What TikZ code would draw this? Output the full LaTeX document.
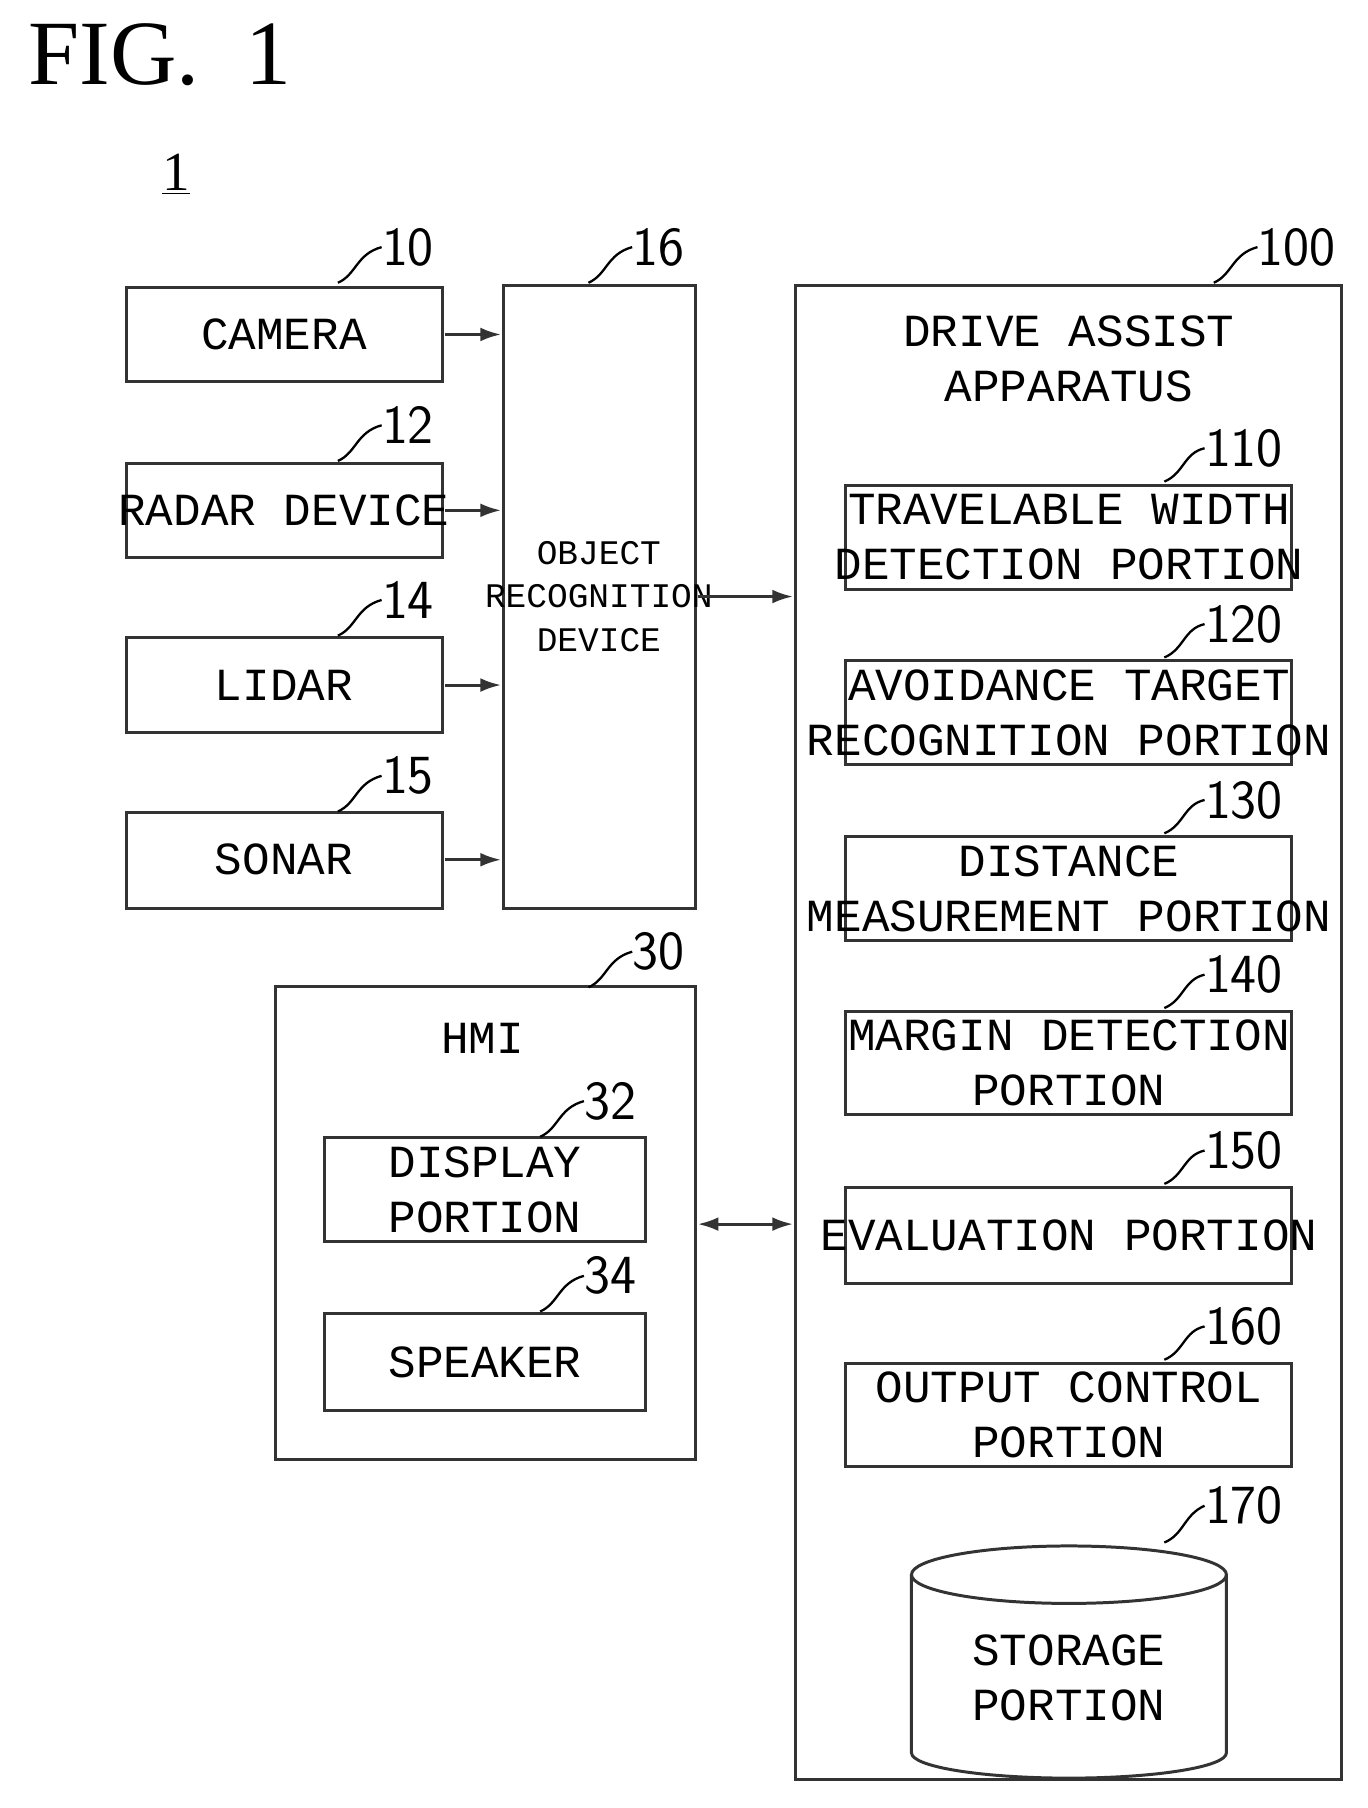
\documentclass[tikz,border=0pt]{standalone}
\usepackage{fontspec}
\setmainfont{Liberation Serif}
\newfontfamily\pf{Liberation Mono}
\usetikzlibrary{arrows.meta,shapes.geometric}
\begin{document}
\begin{tikzpicture}[x=0.5pt,y=-0.5pt,
 bx/.style={draw=black!80,line width=1.3pt},
 t/.style={font=\pf\fontsize{20}{24}\selectfont,align=center,inner sep=0},
 num/.style={font=\fontfamily{lmss}\sffamily\fontsize{24}{26}\selectfont,anchor=west,inner sep=0},
 ar/.style={draw=black!80,line width=1.3pt,-{Latex[length=9pt,width=6pt]}}]
\useasboundingbox (0,0) rectangle (1190,1573);
\node[anchor=west,font=\fontsize{40}{44}\selectfont] (fig) at (18,48) {FIG.\ \ 1};
\node[font=\fontsize{24}{26}\selectfont] (one) at (153,152) {\underline{1}};
% boxes
\draw[bx] (110,250) rectangle (385,332); \node[t] (cam) at (247,291) {CAMERA};
\draw[bx] (110,403) rectangle (385,485); \node[t] (rad) at (247,444) {RADAR DEVICE};
\draw[bx] (110,555) rectangle (385,637); \node[t] (lid) at (247,596) {LIDAR};
\draw[bx] (110,707) rectangle (385,790); \node[t] (son) at (247,748) {SONAR};
\draw[bx] (438,248) rectangle (605,790);
\node[t,font=\pf\fontsize{15}{19}\selectfont] (obj) at (521,519) {OBJECT\\RECOGNITION\\DEVICE};
\draw[bx] (692,248) rectangle (1167,1548);
\node[t] (da) at (930,312) {DRIVE ASSIST\\APPARATUS};
\foreach \n/\ya/\yb/\txt in {110/422/513/{TRAVELABLE WIDTH\\DETECTION PORTION},
 120/575/665/{AVOIDANCE TARGET\\RECOGNITION PORTION},
 130/728/818/{DISTANCE\\MEASUREMENT PORTION},
 140/880/970/{MARGIN DETECTION\\PORTION},
 150/1033/1117/{EVALUATION PORTION},
 160/1186/1276/{OUTPUT CONTROL\\PORTION}}{
 \draw[bx] (736,\ya) rectangle (1124,\yb);
 \node[t] (b\n) at (930,{(\ya+\yb)/2}) {\txt};
 \node[num] (l\n) at (1048,{\ya-32}) {\n};
 \draw[line width=1pt] (1013,{\ya-3}) .. controls (1030,{\ya-10}) and (1030,{\ya-28}) .. (l\n.west);
}
% cylinder
\draw[bx,fill=white] (793,1370) -- (793,1525) arc[start angle=180,end angle=360,x radius=137,y radius=-22] -- (1067,1370);
\draw[bx] (930,1370) ellipse [x radius=137,y radius=25];
\node[t] (sto) at (930,1460) {STORAGE\\PORTION};
\node[num] (l170) at (1048,1310) {170};
\draw[line width=1pt] (1013,1342) .. controls (1030,1335) and (1030,1318) .. (l170.west);
% HMI
\draw[bx] (240,858) rectangle (605,1270); \node[t] (hmi) at (420,903) {HMI};
\draw[bx] (282,990) rectangle (562,1080); \node[t] (dis) at (422,1035) {DISPLAY\\PORTION};
\draw[bx] (282,1143) rectangle (562,1227); \node[t] (spk) at (422,1185) {SPEAKER};
% labels
\foreach \n/\x/\y in {10/332/215,12/332/370,14/332/522,15/332/675,16/550/215,100/1094/215,30/550/828,32/508/958,34/508/1110}{
 \node[num] (n\n) at (\x,\y) {\n};
 \draw[line width=1pt] (\x-38,\y+31) .. controls (\x-22,\y+24) and (\x-22,\y+6) .. (n\n.west);
}
% arrows
\foreach \y in {291,444,596,748}{ \draw[ar] (387,\y) -- (436,\y); }
\draw[ar] (607,519) -- (690,519);
\draw[ar,{Latex[length=9pt,width=6pt]}-{Latex[length=9pt,width=6pt]}] (607,1065) -- (690,1065);
\end{tikzpicture}
\end{document}
